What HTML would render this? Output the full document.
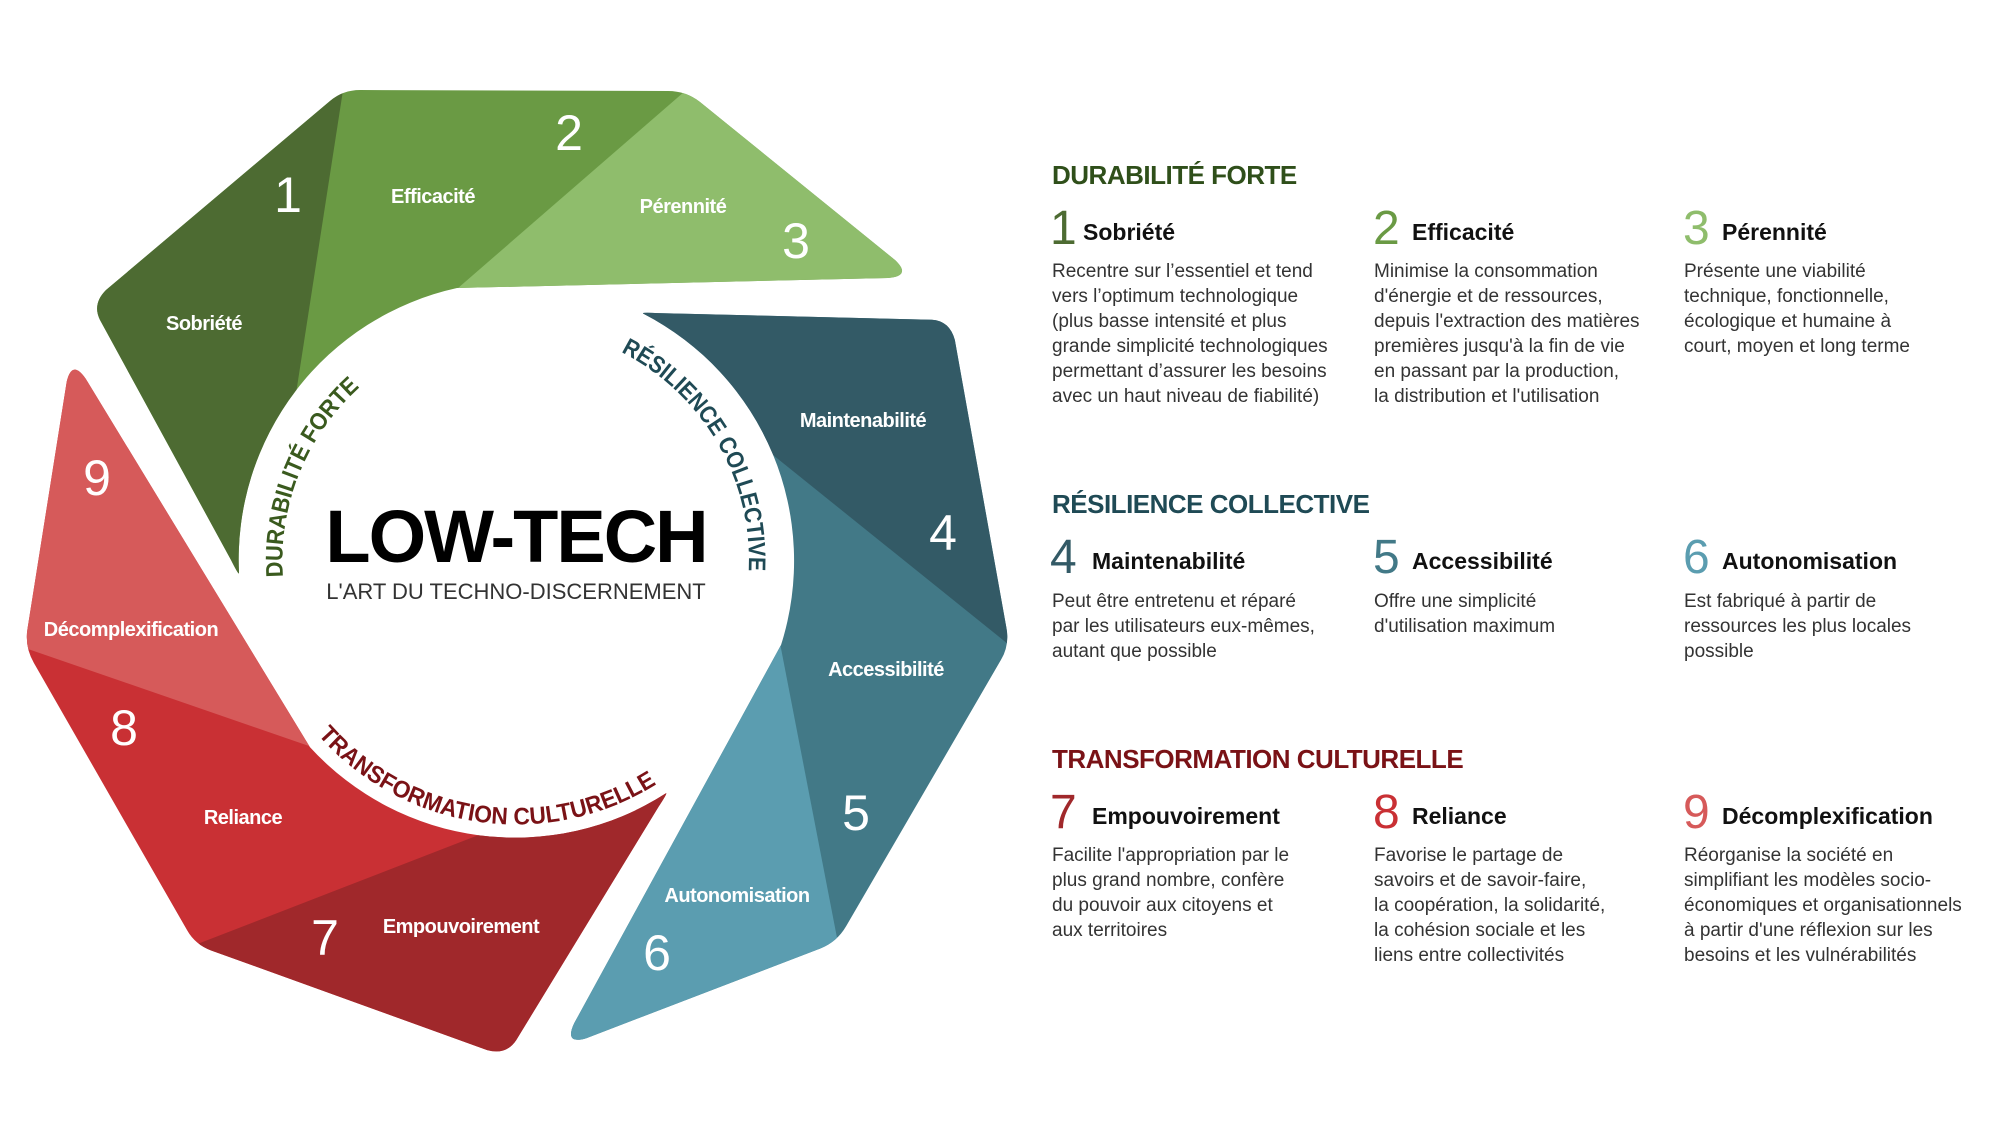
<!DOCTYPE html>
<html><head><meta charset="utf-8"><style>
html,body{margin:0;padding:0;background:#fff;overflow:hidden;width:2000px;height:1125px}
svg{display:block}
text{font-family:"Liberation Sans",sans-serif}
.lab{font-size:20px;font-weight:bold;fill:#fff;text-anchor:middle;letter-spacing:-0.5px}
.num{font-size:50px;fill:#fff;text-anchor:middle}
.h{font-size:26px;font-weight:bold;letter-spacing:-0.5px}
.n{font-size:48px}
.t{font-size:23px;font-weight:bold;fill:#111}
.b{font-size:19px;fill:#333}
.arc{font-size:24px;font-weight:bold}
</style></head><body>
<svg width="2000" height="1125" viewBox="0 0 2000 1125" xmlns="http://www.w3.org/2000/svg">
<defs>
<clipPath id="cg"><path d="M457,288 L888,278 Q912,276 895,260 L700,102 Q686,91 668,91 L360,90 Q343,90 330,101 L106,290 Q92,304 100,320 L231,560 Q239,576 239,573 A278,278 0 0 1 457,288 Z"/></clipPath>
<path id="pa1" d="M283,577 A233,233 0 0 1 418,349"/>
<path id="pa2" d="M621,352 A233,233 0 0 1 741,620"/>
<path id="pa3" d="M318,735 A264,264 0 0 0 703,747"/>
</defs>
<g clip-path="url(#cg)">
<rect x="0" y="0" width="1100" height="700" fill="#6a9a44"/>
<polygon points="0,0 357,0 264,600 0,600" fill="#4d6b32"/>
<polygon points="790,0 1100,0 1100,400 329,400" fill="#8fbd6c"/>
</g>
<g transform="rotate(120 516 560)" clip-path="url(#cg)">
<rect x="0" y="0" width="1100" height="700" fill="#427987"/>
<polygon points="0,0 357,0 264,600 0,600" fill="#335a66"/>
<polygon points="790,0 1100,0 1100,400 329,400" fill="#5b9db0"/>
</g>
<g transform="rotate(240 516 560)" clip-path="url(#cg)">
<rect x="0" y="0" width="1100" height="700" fill="#c93034"/>
<polygon points="0,0 357,0 264,600 0,600" fill="#a0282b"/>
<polygon points="790,0 1100,0 1100,400 329,400" fill="#d65a5a"/>
</g>
<text class="num" x="288" y="212">1</text>
<text class="num" x="569" y="150">2</text>
<text class="num" x="796" y="258">3</text>
<text class="num" x="943" y="550">4</text>
<text class="num" x="856" y="830">5</text>
<text class="num" x="657" y="970">6</text>
<text class="num" x="325" y="955">7</text>
<text class="num" x="124" y="745">8</text>
<text class="num" x="97" y="495">9</text>
<text class="lab" x="204" y="330">Sobriété</text>
<text class="lab" x="433" y="203">Efficacité</text>
<text class="lab" x="683" y="213">Pérennité</text>
<text class="lab" x="863" y="427">Maintenabilité</text>
<text class="lab" x="886" y="676">Accessibilité</text>
<text class="lab" x="737" y="902">Autonomisation</text>
<text class="lab" x="461" y="933">Empouvoirement</text>
<text class="lab" x="243" y="824">Reliance</text>
<text class="lab" x="131" y="636">Décomplexification</text>
<text x="516" y="562" text-anchor="middle" font-size="74" font-weight="bold" fill="#000" letter-spacing="-2">LOW-TECH</text>
<text x="516" y="599" text-anchor="middle" font-size="22" fill="#333">L'ART DU TECHNO-DISCERNEMENT</text>
<text class="arc" fill="#3a5a1e"><textPath href="#pa1" textLength="212" lengthAdjust="spacingAndGlyphs">DURABILITÉ FORTE</textPath></text>
<text class="arc" fill="#1f4a55"><textPath href="#pa2" textLength="268" lengthAdjust="spacingAndGlyphs">RÉSILIENCE COLLECTIVE</textPath></text>
<text class="arc" fill="#7a1216"><textPath href="#pa3" textLength="372" lengthAdjust="spacingAndGlyphs">TRANSFORMATION CULTURELLE</textPath></text>

<text class="h" x="1052" y="184" fill="#2f4f1a">DURABILITÉ FORTE</text>
<text class="n" x="1050" y="244" fill="#4d6b32">1</text><text class="t" x="1083" y="240">Sobriété</text>
<text class="n" x="1373" y="244" fill="#6a9a44">2</text><text class="t" x="1412" y="240">Efficacité</text>
<text class="n" x="1683" y="244" fill="#8fbd6c">3</text><text class="t" x="1722" y="240">Pérennité</text>
<text class="b" x="1052" y="277">Recentre sur l’essentiel et tend</text>
<text class="b" x="1052" y="302">vers l’optimum technologique</text>
<text class="b" x="1052" y="327">(plus basse intensité et plus</text>
<text class="b" x="1052" y="352">grande simplicité technologiques</text>
<text class="b" x="1052" y="377">permettant d’assurer les besoins</text>
<text class="b" x="1052" y="402">avec un haut niveau de fiabilité)</text>
<text class="b" x="1374" y="277">Minimise la consommation</text>
<text class="b" x="1374" y="302">d'énergie et de ressources,</text>
<text class="b" x="1374" y="327">depuis l'extraction des matières</text>
<text class="b" x="1374" y="352">premières jusqu'à la fin de vie</text>
<text class="b" x="1374" y="377">en passant par la production,</text>
<text class="b" x="1374" y="402">la distribution et l'utilisation</text>
<text class="b" x="1684" y="277">Présente une viabilité</text>
<text class="b" x="1684" y="302">technique, fonctionnelle,</text>
<text class="b" x="1684" y="327">écologique et humaine à</text>
<text class="b" x="1684" y="352">court, moyen et long terme</text>

<text class="h" x="1052" y="513" fill="#1f4a55">RÉSILIENCE COLLECTIVE</text>
<text class="n" x="1050" y="573" fill="#335a66">4</text><text class="t" x="1092" y="569">Maintenabilité</text>
<text class="n" x="1373" y="573" fill="#427987">5</text><text class="t" x="1412" y="569">Accessibilité</text>
<text class="n" x="1683" y="573" fill="#5b9db0">6</text><text class="t" x="1722" y="569">Autonomisation</text>
<text class="b" x="1052" y="607">Peut être entretenu et réparé</text>
<text class="b" x="1052" y="632">par les utilisateurs eux-mêmes,</text>
<text class="b" x="1052" y="657">autant que possible</text>
<text class="b" x="1374" y="607">Offre une simplicité</text>
<text class="b" x="1374" y="632">d'utilisation maximum</text>
<text class="b" x="1684" y="607">Est fabriqué à partir de</text>
<text class="b" x="1684" y="632">ressources les plus locales</text>
<text class="b" x="1684" y="657">possible</text>

<text class="h" x="1052" y="768" fill="#7a1216">TRANSFORMATION CULTURELLE</text>
<text class="n" x="1050" y="828" fill="#a0282b">7</text><text class="t" x="1092" y="824">Empouvoirement</text>
<text class="n" x="1373" y="828" fill="#c93034">8</text><text class="t" x="1412" y="824">Reliance</text>
<text class="n" x="1683" y="828" fill="#d65a5a">9</text><text class="t" x="1722" y="824">Décomplexification</text>
<text class="b" x="1052" y="861">Facilite l'appropriation par le</text>
<text class="b" x="1052" y="886">plus grand nombre, confère</text>
<text class="b" x="1052" y="911">du pouvoir aux citoyens et</text>
<text class="b" x="1052" y="936">aux territoires</text>
<text class="b" x="1374" y="861">Favorise le partage de</text>
<text class="b" x="1374" y="886">savoirs et de savoir-faire,</text>
<text class="b" x="1374" y="911">la coopération, la solidarité,</text>
<text class="b" x="1374" y="936">la cohésion sociale et les</text>
<text class="b" x="1374" y="961">liens entre collectivités</text>
<text class="b" x="1684" y="861">Réorganise la société en</text>
<text class="b" x="1684" y="886">simplifiant les modèles socio-</text>
<text class="b" x="1684" y="911">économiques et organisationnels</text>
<text class="b" x="1684" y="936">à partir d'une réflexion sur les</text>
<text class="b" x="1684" y="961">besoins et les vulnérabilités</text>
</svg>
</body></html>
